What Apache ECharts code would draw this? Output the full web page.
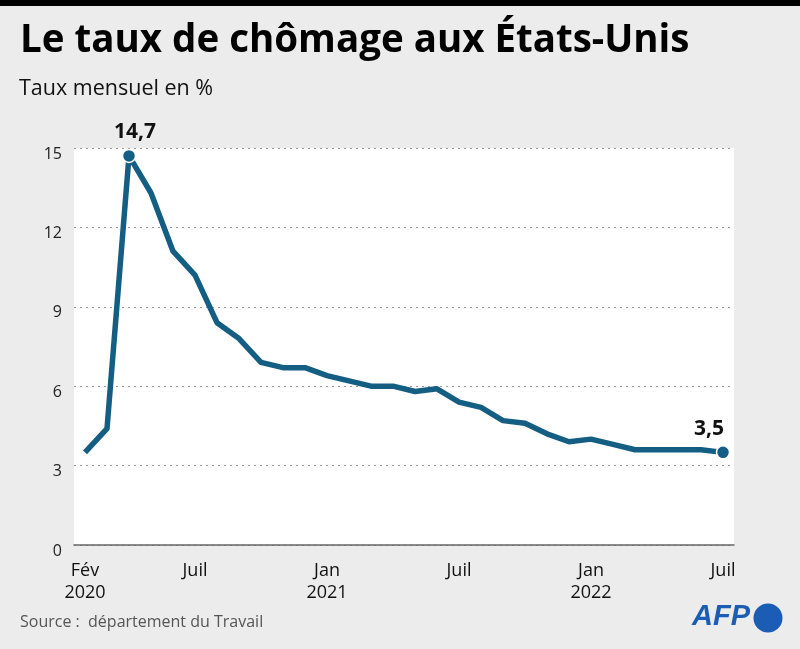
<!DOCTYPE html>
<html><head><meta charset="utf-8">
<script src="https://cdn.jsdelivr.net/npm/echarts@6/dist/echarts.min.js"></script>
<style>html,body{margin:0;padding:0;background:#ececec}#c{width:800px;height:649px}</style>
</head><body><div id="c"></div>
<script>
const months = ['Fév\n2020','Mar','Avr','Mai','Juin','Juil','Août','Sep','Oct','Nov','Déc',
  'Jan\n2021','Fév','Mar','Avr','Mai','Juin','Juil','Août','Sep','Oct','Nov','Déc',
  'Jan\n2022','Fév','Mar','Avr','Mai','Juin','Juil'];
const rates = [3.5,4.4,14.7,13.3,11.1,10.2,8.4,7.8,6.9,6.7,6.7,
  6.4,6.2,6.0,6.0,5.8,5.9,5.4,5.2,4.7,4.6,4.2,3.9,
  4.0,3.8,3.6,3.6,3.6,3.6,3.5];
const shownTicks = [0,5,11,17,23,29];
const highlighted = [2,29];
const yTicks = {min:0,max:15,step:3};

const FONT = 'Open Sans';
const lineColor = '#145e83';
const data = rates.map((v,i)=>{
  if(!highlighted.includes(i)) return v;
  const last = i===rates.length-1;
  return {value:v, symbol:'circle', symbolSize:13,
    itemStyle:{color:lineColor,borderColor:'#fff',borderWidth:1.5},
    label:{show:true, position:'top', distance:6, offset: last?[-14,0]:[6,0],
      formatter:p=>String(p.value).replace('.',','),
      fontFamily:FONT, fontWeight:'bold', fontSize:21, color:'#111'}};
});

const chart = echarts.init(document.getElementById('c'));
chart.setOption({
  backgroundColor:'#ececec',
  animation:false,
  grid:{left:74,right:66,top:148,bottom:104,show:true,backgroundColor:'#fff',borderWidth:0},
  graphic:[
    {type:'rect',shape:{x:0,y:0,width:800,height:6},style:{fill:'#000'}},
    {type:'text',left:20,top:22,style:{text:'Le taux de chômage aux États-Unis',fontFamily:FONT,fontWeight:'bold',fontSize:38.5,fill:'#000'}},
    {type:'text',left:19,top:78,style:{text:'Taux mensuel en %',fontFamily:FONT,fontSize:21.5,fill:'#111'}},
    {type:'text',left:20,top:614,style:{text:'Source :  département du Travail',fontFamily:FONT,fontSize:16,fill:'#555'}},
    {type:'text',left:692,top:602,style:{text:'AFP',fontFamily:'Liberation Sans',fontWeight:'bold',fontStyle:'italic',fontSize:29,fill:'#1b5cb5'}},
    {type:'circle',shape:{cx:768,cy:618,r:14.5},style:{fill:'#1b5cb5'}}
  ],
  xAxis:{type:'category',data:months,boundaryGap:true,
    axisLine:{lineStyle:{color:'#666',width:1.5}},
    axisTick:{inside:true,length:10,alignWithLabel:true,interval:(i)=>shownTicks.includes(i),lineStyle:{color:'#555',width:1.5}},
    axisLabel:{interval:(i)=>shownTicks.includes(i),fontFamily:FONT,fontSize:18,color:'#111',lineHeight:22,margin:15}},
  yAxis:{type:'value',min:yTicks.min,max:yTicks.max,interval:yTicks.step,
    axisLine:{show:false},axisTick:{show:false},
    axisLabel:{fontFamily:FONT,fontSize:16,color:'#222',margin:12,verticalAlign:'top',padding:[-2,0,0,0]},
    splitLine:{lineStyle:{type:[2,4],color:'#999',width:1}}},
  series:[{type:'line',data:data,symbol:'none',
    lineStyle:{color:lineColor,width:5.5,join:'round'},
    itemStyle:{color:lineColor}}]
});
</script></body></html>
